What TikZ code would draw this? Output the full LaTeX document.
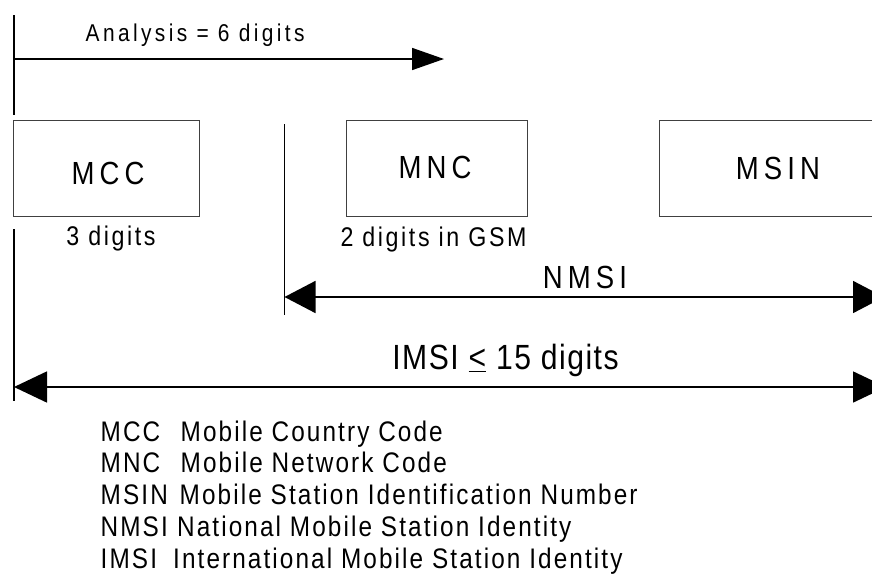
\documentclass[tikz,border=0pt]{standalone}
\usepackage{fontspec}
\setmainfont[FakeStretch=0.86]{Liberation Sans}
\usetikzlibrary{arrows.meta}

\tikzset{
  rule/.style={line width=1.6pt, black},
  idbox/.style={draw=black!75, line width=1pt, rectangle, inner sep=0pt},
  boxtext/.style={inner sep=0pt, font=\fontsize{32}{38}\selectfont\addfontfeature{LetterSpace=16}},
  bigtext/.style={inner sep=0pt, font=\fontsize{35}{42}\selectfont\addfontfeature{LetterSpace=4.3}},
  smalltext/.style={inner sep=0pt, font=\fontsize{27}{32}\selectfont\addfontfeature{LetterSpace=9.6}},
  toptext/.style={inner sep=0pt, font=\fontsize{24.3}{29}\selectfont\addfontfeature{LetterSpace=14}},
  legend/.style={inner sep=0pt, anchor=base west, font=\fontsize{28.3}{34}\selectfont\addfontfeature{LetterSpace=7.4}},
  tipA/.style={-{Triangle[length=32pt,width=22pt]}},
  tipB/.style={{Triangle[length=31pt,width=32pt]}-{Triangle[length=31pt,width=32pt]}},
  tipC/.style={{Triangle[length=33pt,width=31pt]}-{Triangle[length=33pt,width=31pt]}},
}

\begin{document}
\begin{tikzpicture}[x=1pt, y=-1pt]
  \useasboundingbox (0,0) rectangle (872,573);
  \clip (0,0) rectangle (872,573);

  % identity fields
  \node[idbox, minimum width=186pt, minimum height=96pt] (mcc)  at (106,168) {};
  \node[idbox, minimum width=181pt, minimum height=96pt] (mnc)  at (436.5,168) {};
  \node[idbox, minimum width=234pt, minimum height=96pt] (msin) at (776,168) {};

  \node[boxtext, anchor=base] (mcct)  at (108,184) {MCC};
  \node[boxtext, anchor=base] (mnct)  at (435,178.3) {MNC};
  \node[boxtext, anchor=base] (msint) at (778,179) {MSIN};

  \node[smalltext, anchor=base] (mccn) at (111,245) {3 digits};
  \node[smalltext, anchor=base] (mncn) at (433.5,246) {2 digits in GSM};

  % end markers
  \coordinate (atop)  at (14,15);
  \coordinate (abot)  at (14,115);
  \coordinate (ntop)  at (284.5,124);
  \coordinate (nbot)  at (284.5,315);
  \coordinate (itop)  at (14,229);
  \coordinate (ibot)  at (14,401);
  \draw[rule] (atop) -- (abot);
  \draw[rule] (ntop) -- (nbot);
  \draw[rule] (itop) -- (ibot);

  % analysis range
  \coordinate (an0) at (14,59);
  \coordinate (an1) at (444,59);
  \draw[rule, tipA] (an0) -- (an1);
  \node[toptext, anchor=base west] (ant) at (85.5,41) {Analysis = 6 digits};

  % NMSI range
  \coordinate (nm0) at (284.5,297);
  \coordinate (nm1) at (884,297);
  \draw[rule, tipB] (nm0) -- (nm1);
  \node[boxtext, anchor=base] (nmt) at (585,288.3) {NMSI};

  % IMSI range
  \coordinate (im0) at (14,387);
  \coordinate (im1) at (886,387);
  \draw[rule, tipC] (im0) -- (im1);
  \node[bigtext, anchor=base] (imt) at (505.5,369.5) {IMSI \underline{<} 15 digits};

  % legend
  \node[legend] (l1a) at (100.5,441)   {MCC};
  \node[legend] (l1b) at (180.5,441)   {Mobile Country Code};
  \node[legend] (l2a) at (100.5,472.7) {MNC};
  \node[legend] (l2b) at (180.5,472.7) {Mobile Network Code};
  \node[legend] (l3a) at (100.5,504.5) {MSIN};
  \node[legend] (l3b) at (179.5,504.5) {Mobile Station Identification Number};
  \node[legend] (l4a) at (100.5,536.5) {NMSI};
  \node[legend] (l4b) at (177,536.5)   {National Mobile Station Identity};
  \node[legend] (l5a) at (100.5,568.3) {IMSI};
  \node[legend] (l5b) at (173,568.3)   {International Mobile Station Identity};
\end{tikzpicture}
\end{document}
